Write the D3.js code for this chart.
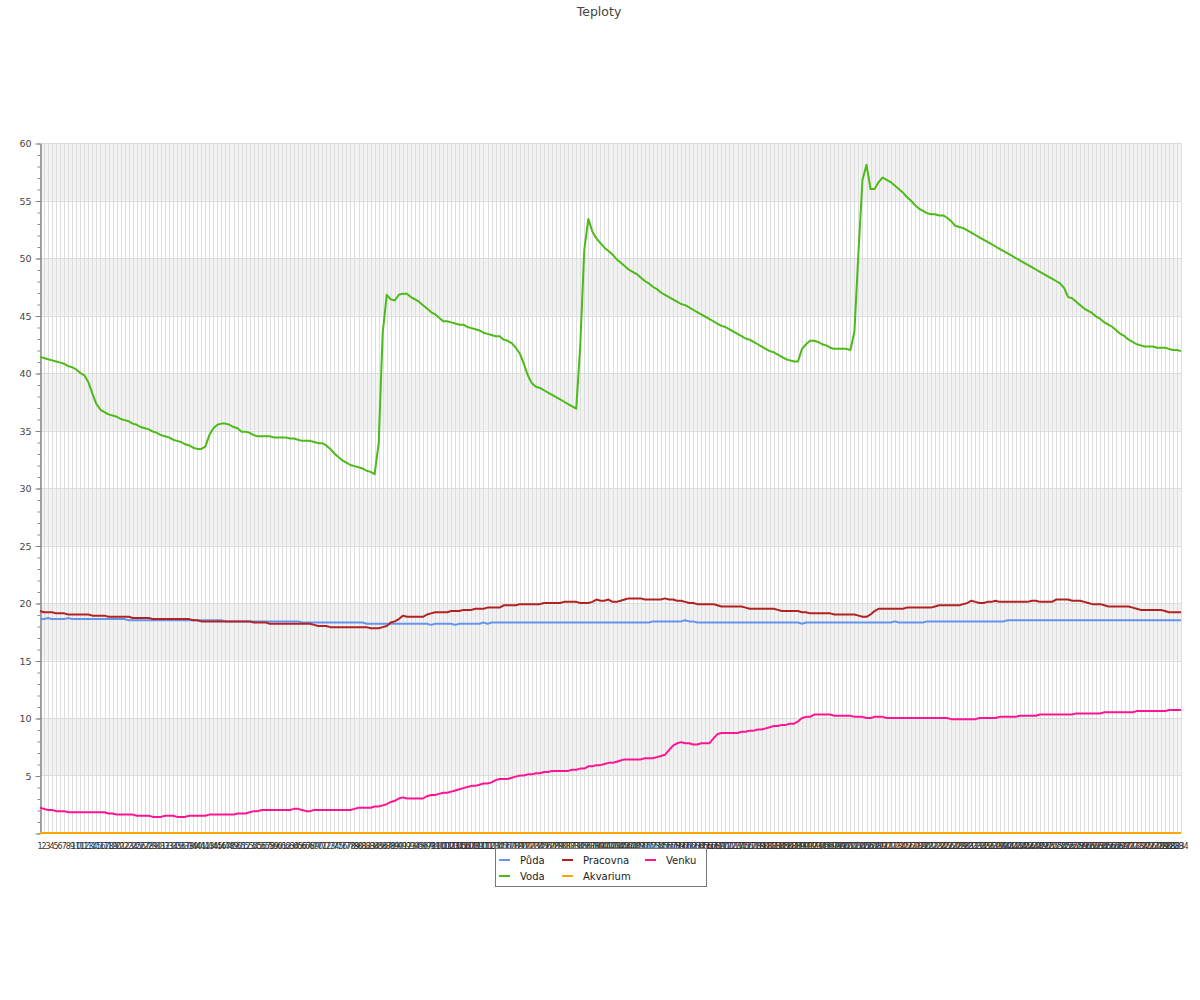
<!DOCTYPE html>
<html><head><meta charset="utf-8">
<script src="https://cdn.jsdelivr.net/npm/d3@7"></script>
<style>body{margin:0;background:#fff;} svg{display:block;font-family:"DejaVu Sans",sans-serif;}</style>
</head><body>
<svg id="c" width="1200" height="1000"></svg>
<script>
const title = "Teploty";
const categories = d3.range(1, 285).map(String);

const puda = [
18.6,18.6,18.7,18.6,18.6,18.6,18.6,18.7,18.6,18.6,
18.6,18.6,18.6,18.6,18.6,18.6,18.6,18.6,18.6,18.6,
18.6,18.6,18.5,18.5,18.5,18.5,18.5,18.5,18.5,18.5,
18.5,18.5,18.5,18.5,18.5,18.5,18.5,18.5,18.5,18.5,
18.5,18.5,18.5,18.5,18.5,18.5,18.4,18.4,18.4,18.4,
18.4,18.4,18.4,18.4,18.4,18.4,18.4,18.4,18.4,18.4,
18.4,18.4,18.4,18.4,18.4,18.3,18.3,18.3,18.3,18.3,
18.3,18.3,18.3,18.3,18.3,18.3,18.3,18.3,18.3,18.3,
18.3,18.2,18.2,18.2,18.2,18.2,18.2,18.2,18.2,18.2,
18.2,18.2,18.2,18.2,18.2,18.2,18.2,18.1,18.2,18.2,
18.2,18.2,18.2,18.1,18.2,18.2,18.2,18.2,18.2,18.2,
18.3,18.2,18.3,18.3,18.3,18.3,18.3,18.3,18.3,18.3,
18.3,18.3,18.3,18.3,18.3,18.3,18.3,18.3,18.3,18.3,
18.3,18.3,18.3,18.3,18.3,18.3,18.3,18.3,18.3,18.3,
18.3,18.3,18.3,18.3,18.3,18.3,18.3,18.3,18.3,18.3,
18.3,18.3,18.4,18.4,18.4,18.4,18.4,18.4,18.4,18.4,
18.5,18.4,18.4,18.3,18.3,18.3,18.3,18.3,18.3,18.3,
18.3,18.3,18.3,18.3,18.3,18.3,18.3,18.3,18.3,18.3,
18.3,18.3,18.3,18.3,18.3,18.3,18.3,18.3,18.3,18.2,
18.3,18.3,18.3,18.3,18.3,18.3,18.3,18.3,18.3,18.3,
18.3,18.3,18.3,18.3,18.3,18.3,18.3,18.3,18.3,18.3,
18.3,18.3,18.4,18.3,18.3,18.3,18.3,18.3,18.3,18.3,
18.4,18.4,18.4,18.4,18.4,18.4,18.4,18.4,18.4,18.4,
18.4,18.4,18.4,18.4,18.4,18.4,18.4,18.4,18.4,18.4,
18.5,18.5,18.5,18.5,18.5,18.5,18.5,18.5,18.5,18.5,
18.5,18.5,18.5,18.5,18.5,18.5,18.5,18.5,18.5,18.5,
18.5,18.5,18.5,18.5,18.5,18.5,18.5,18.5,18.5,18.5,
18.5,18.5,18.5,18.5,18.5,18.5,18.5,18.5,18.5,18.5,
18.5,18.5,18.5,18.5];

const voda = [
41.4,41.3,41.2,41.1,41.0,40.9,40.8,40.6,40.5,40.3,
40.0,39.8,39.2,38.2,37.3,36.8,36.6,36.4,36.3,36.2,
36.0,35.9,35.8,35.6,35.5,35.3,35.2,35.1,34.9,34.8,
34.6,34.5,34.4,34.2,34.1,34.0,33.8,33.7,33.5,33.4,
33.4,33.6,34.6,35.2,35.5,35.6,35.6,35.5,35.3,35.2,
34.9,34.9,34.8,34.6,34.5,34.5,34.5,34.5,34.4,34.4,
34.4,34.4,34.3,34.3,34.2,34.1,34.1,34.1,34.0,33.9,
33.9,33.7,33.4,33.0,32.7,32.4,32.2,32.0,31.9,31.8,
31.7,31.5,31.4,31.2,33.9,43.5,46.8,46.4,46.3,46.8,
46.9,46.9,46.6,46.4,46.2,45.9,45.6,45.3,45.1,44.8,
44.5,44.5,44.4,44.3,44.2,44.2,44.0,43.9,43.8,43.7,
43.5,43.4,43.3,43.2,43.2,42.9,42.8,42.6,42.2,41.7,
40.8,39.8,39.1,38.8,38.7,38.5,38.3,38.1,37.9,37.7,
37.5,37.3,37.1,36.9,42.4,50.7,53.4,52.3,51.7,51.3,
50.9,50.6,50.3,49.9,49.6,49.3,49.0,48.8,48.6,48.3,
48.0,47.8,47.5,47.3,47.0,46.8,46.6,46.4,46.2,46.0,
45.9,45.7,45.5,45.3,45.1,44.9,44.7,44.5,44.3,44.1,
44.0,43.8,43.6,43.4,43.2,43.0,42.9,42.7,42.5,42.3,
42.1,41.9,41.8,41.6,41.4,41.2,41.1,41.0,41.0,42.1,
42.5,42.8,42.8,42.7,42.5,42.4,42.2,42.1,42.1,42.1,
42.1,42.0,43.6,50.5,56.8,58.1,56.0,56.0,56.6,57.0,
56.8,56.6,56.3,56.0,55.7,55.3,55.0,54.6,54.3,54.1,
53.9,53.8,53.8,53.7,53.7,53.5,53.2,52.8,52.7,52.6,
52.4,52.2,52.0,51.8,51.6,51.4,51.2,51.0,50.8,50.6,
50.4,50.2,50.0,49.8,49.6,49.4,49.2,49.0,48.8,48.6,
48.4,48.2,48.0,47.8,47.4,46.6,46.5,46.2,45.9,45.6,
45.4,45.2,44.9,44.7,44.4,44.2,44.0,43.7,43.4,43.2,
42.9,42.7,42.5,42.4,42.3,42.3,42.3,42.2,42.2,42.2,
42.1,42.0,42.0,41.9];

const pracovna = [
19.3,19.2,19.2,19.2,19.1,19.1,19.1,19.0,19.0,19.0,
19.0,19.0,19.0,18.9,18.9,18.9,18.9,18.8,18.8,18.8,
18.8,18.8,18.8,18.7,18.7,18.7,18.7,18.7,18.6,18.6,
18.6,18.6,18.6,18.6,18.6,18.6,18.6,18.6,18.5,18.5,
18.4,18.4,18.4,18.4,18.4,18.4,18.4,18.4,18.4,18.4,
18.4,18.4,18.4,18.3,18.3,18.3,18.3,18.2,18.2,18.2,
18.2,18.2,18.2,18.2,18.2,18.2,18.2,18.2,18.1,18.0,
18.0,18.0,17.9,17.9,17.9,17.9,17.9,17.9,17.9,17.9,
17.9,17.9,17.8,17.8,17.8,17.9,18.0,18.3,18.4,18.6,
18.9,18.8,18.8,18.8,18.8,18.8,19.0,19.1,19.2,19.2,
19.2,19.2,19.3,19.3,19.3,19.4,19.4,19.4,19.5,19.5,
19.5,19.6,19.6,19.6,19.6,19.8,19.8,19.8,19.8,19.9,
19.9,19.9,19.9,19.9,19.9,20.0,20.0,20.0,20.0,20.0,
20.1,20.1,20.1,20.1,20.0,20.0,20.0,20.1,20.3,20.2,
20.2,20.3,20.1,20.1,20.2,20.3,20.4,20.4,20.4,20.4,
20.3,20.3,20.3,20.3,20.3,20.4,20.3,20.3,20.2,20.2,
20.1,20.0,20.0,19.9,19.9,19.9,19.9,19.9,19.8,19.7,
19.7,19.7,19.7,19.7,19.7,19.6,19.5,19.5,19.5,19.5,
19.5,19.5,19.5,19.4,19.3,19.3,19.3,19.3,19.3,19.2,
19.2,19.1,19.1,19.1,19.1,19.1,19.1,19.0,19.0,19.0,
19.0,19.0,19.0,18.9,18.8,18.8,19.0,19.3,19.5,19.5,
19.5,19.5,19.5,19.5,19.5,19.6,19.6,19.6,19.6,19.6,
19.6,19.6,19.7,19.8,19.8,19.8,19.8,19.8,19.8,19.9,
20.0,20.2,20.1,20.0,20.0,20.1,20.1,20.2,20.1,20.1,
20.1,20.1,20.1,20.1,20.1,20.1,20.2,20.2,20.1,20.1,
20.1,20.1,20.3,20.3,20.3,20.3,20.2,20.2,20.2,20.1,
20.0,19.9,19.9,19.9,19.8,19.7,19.7,19.7,19.7,19.7,
19.7,19.6,19.5,19.4,19.4,19.4,19.4,19.4,19.4,19.3,
19.2,19.2,19.2,19.2];

const akvarium = categories.map(() => 0);

const venku = [
2.2,2.1,2.0,2.0,1.9,1.9,1.9,1.8,1.8,1.8,
1.8,1.8,1.8,1.8,1.8,1.8,1.8,1.7,1.7,1.6,
1.6,1.6,1.6,1.6,1.5,1.5,1.5,1.5,1.4,1.4,
1.4,1.5,1.5,1.5,1.4,1.4,1.4,1.5,1.5,1.5,
1.5,1.5,1.6,1.6,1.6,1.6,1.6,1.6,1.6,1.7,
1.7,1.7,1.8,1.9,1.9,2.0,2.0,2.0,2.0,2.0,
2.0,2.0,2.0,2.1,2.1,2.0,1.9,1.9,2.0,2.0,
2.0,2.0,2.0,2.0,2.0,2.0,2.0,2.0,2.1,2.2,
2.2,2.2,2.2,2.3,2.3,2.4,2.5,2.7,2.8,3.0,
3.1,3.0,3.0,3.0,3.0,3.0,3.2,3.3,3.3,3.4,
3.5,3.5,3.6,3.7,3.8,3.9,4.0,4.1,4.1,4.2,
4.3,4.3,4.4,4.6,4.7,4.7,4.7,4.8,4.9,5.0,
5.0,5.1,5.1,5.2,5.2,5.3,5.3,5.4,5.4,5.4,
5.4,5.4,5.5,5.5,5.6,5.6,5.8,5.8,5.9,5.9,
6.0,6.1,6.1,6.2,6.3,6.4,6.4,6.4,6.4,6.4,
6.5,6.5,6.5,6.6,6.7,6.8,7.2,7.6,7.8,7.9,
7.8,7.8,7.7,7.7,7.8,7.8,7.8,8.2,8.6,8.7,
8.7,8.7,8.7,8.7,8.8,8.8,8.9,8.9,9.0,9.0,
9.1,9.2,9.3,9.3,9.4,9.4,9.5,9.5,9.7,10.0,
10.1,10.1,10.3,10.3,10.3,10.3,10.3,10.2,10.2,10.2,
10.2,10.2,10.1,10.1,10.1,10.0,10.0,10.1,10.1,10.1,
10.0,10.0,10.0,10.0,10.0,10.0,10.0,10.0,10.0,10.0,
10.0,10.0,10.0,10.0,10.0,10.0,9.9,9.9,9.9,9.9,
9.9,9.9,9.9,10.0,10.0,10.0,10.0,10.0,10.1,10.1,
10.1,10.1,10.1,10.2,10.2,10.2,10.2,10.2,10.3,10.3,
10.3,10.3,10.3,10.3,10.3,10.3,10.3,10.4,10.4,10.4,
10.4,10.4,10.4,10.4,10.5,10.5,10.5,10.5,10.5,10.5,
10.5,10.5,10.6,10.6,10.6,10.6,10.6,10.6,10.6,10.6,
10.7,10.7,10.7,10.7];

const seriesNames = ["Půda", "Voda", "Pracovna", "Akvarium", "Venku"];
const seriesValues = [puda, voda, pracovna, akvarium, venku];
const seriesColors = ["#6495ed", "#4cbb17", "#b22222", "#ffa500", "#ff1493"];
const yMajorTicks = [0, 5, 10, 15, 20, 25, 30, 35, 40, 45, 50, 55, 60];
const yMinorTicks = d3.range(0, 61, 1);

const svg = d3.select("#c");
const L = 40, R = 1181, T = 143, B = 833;
const x = d3.scalePoint().domain(categories).range([L, R]);
const y = d3.scaleLinear().domain([0, 60]).range([B, T]);
const px = v => Math.round(v) + 0.5;

// title
svg.append("text").attr("x", 599).attr("y", 16).attr("text-anchor", "middle")
  .attr("font-size", 12.5).attr("fill", "#444").text(title);

// bands
const bands = yMajorTicks.slice(0, -1).map((v, i) => ({lo: v, hi: yMajorTicks[i + 1], i}));
svg.append("g").selectAll("rect").data(bands.filter(b => b.i % 2 === 1)).join("rect")
  .attr("x", L).attr("width", R - L)
  .attr("y", d => y(d.hi)).attr("height", d => y(d.lo) - y(d.hi))
  .attr("fill", "#f2f2f2");

// vertical grid
svg.append("g").selectAll("line").data(categories).join("line")
  .attr("x1", d => px(x(d))).attr("x2", d => px(x(d)))
  .attr("y1", T).attr("y2", B)
  .attr("stroke", "#dedede").attr("stroke-width", 1);

// horizontal grid
svg.append("g").selectAll("line").data(yMajorTicks.filter(v => v > 0)).join("line")
  .attr("x1", L).attr("x2", R)
  .attr("y1", d => px(y(d))).attr("y2", d => px(y(d)))
  .attr("stroke", "#dcdcdc").attr("stroke-width", 1);

// y axis
const gMinor = svg.append("g").attr("transform", `translate(${L + 0.5},0.5)`)
  .call(d3.axisLeft(y).tickValues(yMinorTicks).tickSize(3).tickSizeOuter(0).tickFormat(""));
gMinor.selectAll("line").attr("stroke", "#888");
gMinor.select(".domain").attr("stroke", "#888");
const gMajor = svg.append("g").attr("transform", `translate(${L + 0.5},0.5)`)
  .call(d3.axisLeft(y).tickValues(yMajorTicks).tickSize(5).tickSizeOuter(0).tickPadding(4)
    .tickFormat(d => d === 0 ? "" : d));
gMajor.select(".domain").attr("stroke", "#888");
gMajor.selectAll("line").attr("stroke", "#888");
gMajor.selectAll("text").attr("font-family", "DejaVu Sans").attr("font-size", 9.5).attr("fill", "#444");

// x labels
svg.append("g").selectAll("text").data(categories).join("text")
  .attr("x", d => x(d)).attr("y", 848.5).attr("text-anchor", "middle")
  .attr("font-size", 8).attr("fill", "#333").text(d => d);

// lines
const line = d3.line().x((d, i) => x(categories[i])).y(d => y(d));
seriesValues.forEach((vals, k) => {
  svg.append("path").datum(vals).attr("d", line)
    .attr("fill", "none").attr("stroke", seriesColors[k]).attr("stroke-width", 2)
    .attr("stroke-linejoin", "round");
});

// legend
const legCols = [499, 562, 645];
const legRows = [860, 876];
svg.append("rect").attr("x", 495.5).attr("y", 848.5).attr("width", 211).attr("height", 38)
  .attr("fill", "#fff").attr("stroke", "#777");
seriesNames.forEach((name, k) => {
  const cx = legCols[Math.floor(k / 2)], cy = legRows[k % 2];
  svg.append("line").attr("x1", cx).attr("x2", cx + 11).attr("y1", cy).attr("y2", cy)
    .attr("stroke", seriesColors[k]).attr("stroke-width", 2);
  svg.append("text").attr("x", cx + 21).attr("y", cy + 4).attr("font-size", 10)
    .attr("fill", "#222").text(name);
});
</script>
</body></html>
